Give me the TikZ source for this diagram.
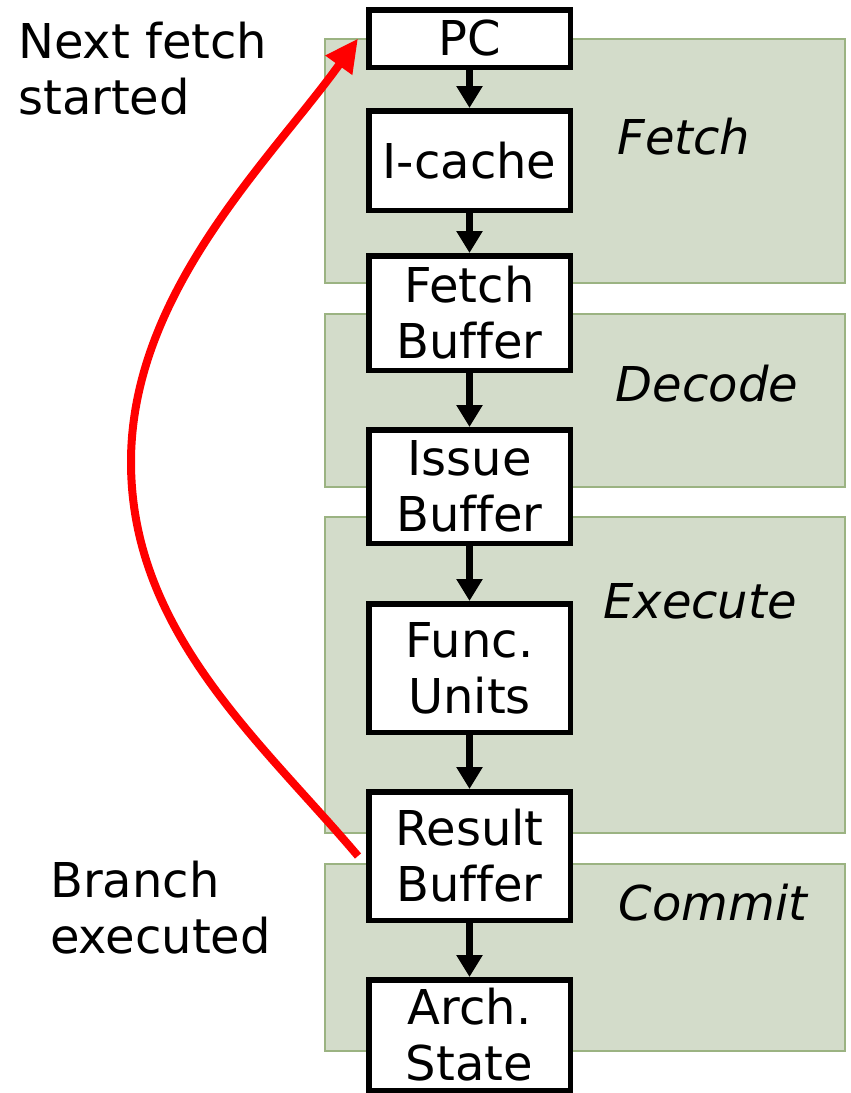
\documentclass[tikz,border=0pt]{standalone}
\usepackage{fontspec}
\setmainfont[Ligatures=NoCommon]{DejaVu Sans}
\usetikzlibrary{arrows.meta}
\definecolor{stagefill}{RGB}{211,220,202}
\definecolor{stageline}{RGB}{155,179,130}
\newcommand{\pipefont}{\fontsize{48}{56}\selectfont}

\begin{document}
\begin{tikzpicture}[x=1pt, y=-1pt,
    stage/.style={fill=stagefill, draw=stageline, line width=2pt},
    unit/.style={draw, fill=white, line width=5.5pt, minimum width=201.5pt, align=center, inner sep=0pt, font=\pipefont},
    flow/.style={line width=6.5pt, -{Triangle[width=25pt,length=22pt]}},
    branch/.style={draw=red, line width=8pt, -{Triangle[width=31pt,length=33pt]}},
    stagelabel/.style={anchor=base, font=\pipefont\itshape},
    note/.style={anchor=north west, align=left, inner sep=0pt, font=\pipefont}]
    \useasboundingbox (0,0) rectangle (851,1093);
    % pipeline stages
    \draw[stage] (325,39) rectangle (845,283);
    \draw[stage] (325,314) rectangle (845,487);
    \draw[stage] (325,517) rectangle (845,833);
    \draw[stage] (325,864) rectangle (845,1051);
    \node[stagelabel] (fetchlbl) at (684,154) {Fetch};
    \node[stagelabel] (decodelbl) at (707,401) {Decode};
    \node[stagelabel] (executelbl) at (700,618) {Execute};
    \node[stagelabel] (commitlbl) at (713,920) {Commit};
    % units
    \node[unit, minimum height=57.5pt] (pc) at (469.5,38.5) {PC};
    \node[unit, minimum height=99.5pt] (icache) at (469.5,160.5) {I-cache};
    \node[unit, minimum height=114.5pt] (fbuf) at (469.5,313) {Fetch\\Buffer};
    \node[unit, minimum height=113.5pt] (ibuf) at (469.5,486.5) {Issue\\Buffer};
    \node[unit, minimum height=128.5pt] (func) at (469.5,668) {Func.\\Units};
    \node[unit, minimum height=128.5pt] (rbuf) at (469.5,856) {Result\\Buffer};
    \node[unit, minimum height=110.5pt] (arch) at (469.5,1035) {Arch.\\State};
    \draw[flow] (pc) -- (icache);
    \draw[flow] (icache) -- (fbuf);
    \draw[flow] (fbuf) -- (ibuf);
    \draw[flow] (ibuf) -- (func);
    \draw[flow] (func) -- (rbuf);
    \draw[flow] (rbuf) -- (arch);
    % redirect after the branch
    \coordinate (bend) at (131,462);
    \draw[branch] ([xshift=-8pt]rbuf.west) .. controls (260.5,741) and (131,632) .. (bend)
        .. controls (131,292) and (271,159.5) .. ([xshift=-8pt]pc.west);
    \node[note] (started) at (18,22) {Next fetch\\started};
    \node[note] (executed) at (50,861) {Branch\\executed};
\end{tikzpicture}
\end{document}
